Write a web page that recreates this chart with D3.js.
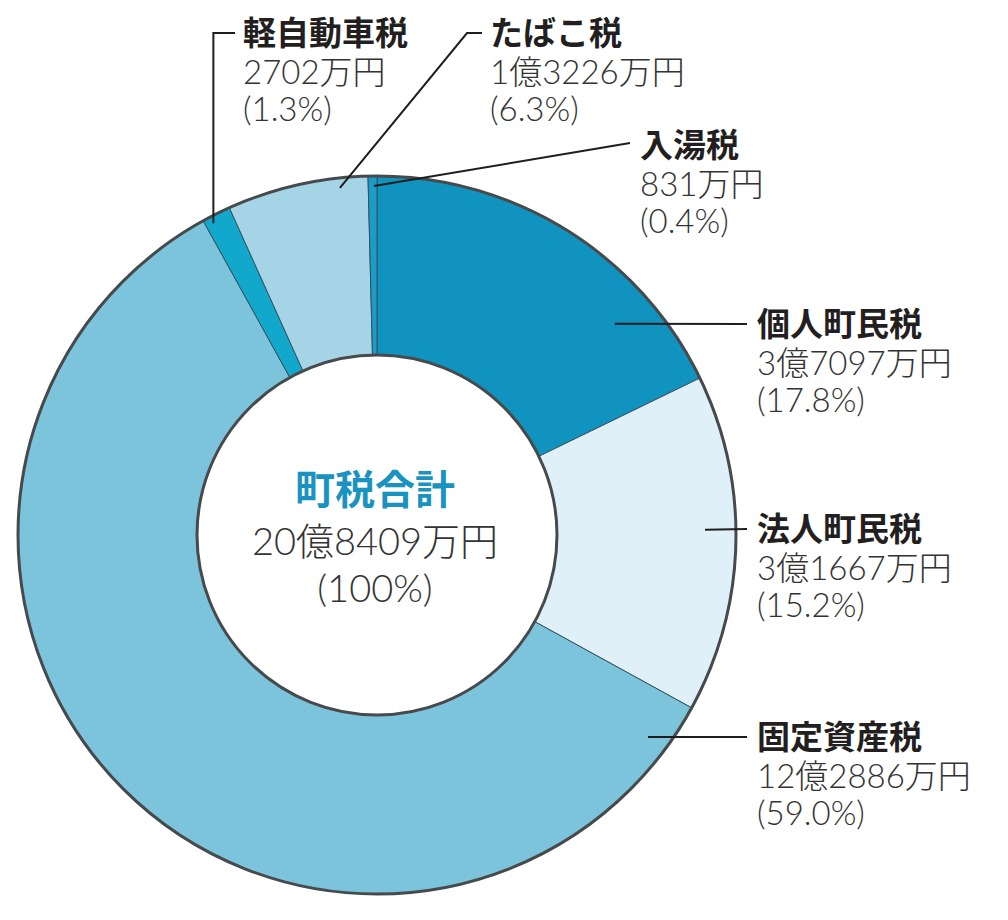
<!DOCTYPE html>
<html><head><meta charset="utf-8">
<script src="https://cdn.jsdelivr.net/npm/d3@7"></script>
<style>body{margin:0;background:#fff}svg{display:block}</style>
</head><body>
<script>
// Data (万円), in drawing order clockwise from 12 o'clock
const categories = ["個人町民税","法人町民税","固定資産税","軽自動車税","たばこ税","入湯税"];
const amounts = [37097, 31667, 122886, 2702, 13226, 831];
const amountLabels = ["3億7097万円","3億1667万円","12億2886万円","2702万円","1億3226万円","831万円"];
const percentLabels = ["(17.8%)","(15.2%)","(59.0%)","(1.3%)","(6.3%)","(0.4%)"];
const totalTitle = "町税合計";
const totalAmount = "20億8409万円";
const totalPercent = "(100%)";
const colors = ["#1193c0","#e0f0f8","#7cc4dc","#12a8cc","#a5d4e6","#1a9cc6"];

// layout
const W = 1008, H = 920;
const cx = 377, cy = 535, R = 359, r = 180;
const cjk = "'Noto Sans CJK JP','Noto Sans',sans-serif";
const num = "Lato,'Noto Sans CJK JP',sans-serif";
// label layout: text anchor, leader start (polar: deg clockwise from top, radius), leader path via elbow
const labelLayout = [
  {tx:757, ty:324, a:48.4, rr:318, elbow:null, end:[747,324]},
  {tx:757, ty:529, a:89.1, rr:328, elbow:null, end:[747,529]},
  {tx:757, ty:737, a:126.7, rr:338, elbow:null, end:[747,737]},
  {tx:243, ty:33, a:-27.7, rr:352, elbow:"v", end:[235,33]},
  {tx:490, ty:33, a:-6.1, rr:349, elbow:[467,33], end:[482,33]},
  {tx:640, ty:145, a:-0.5, rr:349, elbow:null, end:[630,143]}
];

const svg = d3.select("body").append("svg").attr("width", W).attr("height", H);
const g = svg.append("g").attr("transform", `translate(${cx},${cy})`);

const pie = d3.pie().sort(null).value(d => d).startAngle(0).endAngle(2*Math.PI);
const arcs = pie(amounts);
const arc = d3.arc().innerRadius(r).outerRadius(R);

g.selectAll("path.slice").data(arcs).join("path")
  .attr("class","slice")
  .attr("d", arc)
  .attr("fill", (d,i) => colors[i])
  .attr("stroke", "#34505e")
  .attr("stroke-width", 1);

g.append("circle").attr("r", R).attr("fill","none").attr("stroke","#474a4d").attr("stroke-width",3);
g.append("circle").attr("r", r).attr("fill","#fff").attr("stroke","#474a4d").attr("stroke-width",3);

// leaders + labels
function polar(a, rr){ const t = a*Math.PI/180; return [cx + rr*Math.sin(t), cy - rr*Math.cos(t)]; }
labelLayout.forEach((L, i) => {
  const s = polar(L.a, L.rr);
  let pts = [s];
  if (L.elbow === "v") pts.push([s[0], L.end[1]]);
  else if (Array.isArray(L.elbow)) pts.push(L.elbow);
  pts.push(L.end);
  svg.append("path").attr("d", d3.line()(pts)).attr("fill","none")
    .attr("stroke","#1e1e1e").attr("stroke-width",2);
  const t = svg.append("text").attr("x", L.tx).attr("y", L.ty + 12)
    .attr("font-size", 33).attr("font-family", cjk);
  t.append("tspan").attr("x", L.tx).attr("font-weight", 700).attr("fill","#231f20").text(categories[i]);
  t.append("tspan").attr("x", L.tx).attr("dy", 39).attr("font-family", num)
    .attr("font-weight", 300).attr("fill","#333").text(amountLabels[i]);
  t.append("tspan").attr("x", L.tx).attr("dy", 37).attr("font-family", num)
    .attr("font-weight", 300).attr("fill","#333").text(percentLabels[i]);
});

// center
const c = svg.append("text").attr("font-family", cjk).attr("text-anchor","middle")
  .attr("x", cx-2).attr("y", 504);
c.append("tspan").attr("x", cx-2).attr("font-size", 40).attr("font-weight", 700)
  .attr("fill","#1a93c0").text(totalTitle);
c.append("tspan").attr("x", cx-2).attr("dy", 51).attr("font-size", 38).attr("font-family", num)
  .attr("font-weight", 300).attr("fill","#333").text(totalAmount);
c.append("tspan").attr("x", cx-2).attr("dy", 47).attr("font-size", 38).attr("font-family", num)
  .attr("font-weight", 300).attr("fill","#333").text(totalPercent);
</script>
</body></html>
